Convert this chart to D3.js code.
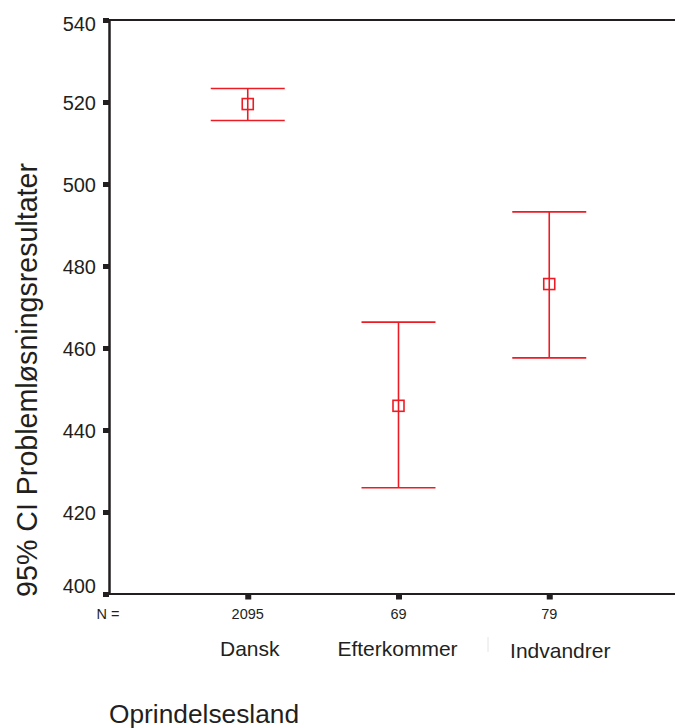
<!DOCTYPE html>
<html>
<head>
<meta charset="utf-8">
<script src="https://cdn.jsdelivr.net/npm/d3@7"></script>
<style>
  html, body { margin: 0; padding: 0; background: #fff; }
  svg { display: block; font-family: "Liberation Sans", Arial, sans-serif; }
</style>
</head>
<body>
<svg id="chart" width="675" height="728"></svg>
<script>
// Problem-solving score by country of origin: means with 95% CI
const categories = ["Dansk", "Efterkommer", "Indvandrer"];
const counts = [2095, 69, 79];
const means = [519.5, 445.9, 475.6];
const lower = [515.5, 425.9, 457.6];
const upper = [523.3, 466.3, 493.2];
const yTicks = [400, 420, 440, 460, 480, 500, 520, 540];

const svg = d3.select("#chart");
const red = "#ed1c24";
const ink = "#231f20";

const plot = { left: 109, right: 675, top: 20, bottom: 594 };

const y = d3.scaleLinear().domain([400, 540]).range([plot.bottom, plot.top]);
const x = d3.scalePoint()
  .domain(["", ...categories, " "])
  .range([97, 700]);

// frame: top edge
svg.append("line")
  .attr("x1", plot.left).attr("x2", plot.right)
  .attr("y1", plot.top).attr("y2", plot.top)
  .attr("stroke", ink).attr("stroke-width", 2);

// y axis; end labels are nudged inside the frame
const yAxis = d3.axisLeft(y).tickValues(yTicks).tickSize(0).tickPadding(13);
const gy = svg.append("g").attr("transform", `translate(${plot.left},0)`).call(yAxis);
gy.select(".domain").attr("stroke", ink).attr("stroke-width", 2.5);
gy.selectAll("text")
  .attr("font-size", 20).attr("fill", ink)
  .attr("font-family", "'Liberation Sans', Arial, sans-serif")
  .attr("dy", d => d === 540 ? "0.54em" : d === 400 ? "-0.1em" : "0.36em");
gy.selectAll(".tick").append("rect")
  .attr("x", -6).attr("y", -2.5).attr("width", 6).attr("height", 5).attr("fill", ink);

// x axis (bottom)
const xAxis = d3.axisBottom(x).tickValues(categories).tickSize(0).tickFormat("");
const gx = svg.append("g").attr("transform", `translate(0,${plot.bottom})`).call(xAxis);
gx.select(".domain").remove();
gx.append("line")
  .attr("x1", plot.left).attr("x2", plot.right)
  .attr("y1", 0).attr("y2", 0)
  .attr("stroke", ink).attr("stroke-width", 2);
gx.selectAll(".tick").append("rect")
  .attr("x", -3).attr("y", 0).attr("width", 6).attr("height", 5.5).attr("fill", ink);

// N = counts row
svg.append("text")
  .attr("x", 108).attr("y", 619)
  .attr("text-anchor", "middle").attr("font-size", 14.5).attr("fill", ink)
  .text("N =");
svg.selectAll("text.count")
  .data(categories)
  .join("text")
  .attr("class", "count")
  .attr("x", d => x(d)).attr("y", 619)
  .attr("text-anchor", "middle").attr("font-size", 14.5).attr("fill", ink)
  .text((d, i) => counts[i]);

// category labels (the last one sits a little right of its tick)
const labelShift = [2, -1, 11];
svg.selectAll("text.cat")
  .data(categories)
  .join("text")
  .attr("class", "cat")
  .attr("x", (d, i) => x(d) + labelShift[i]).attr("y", (d, i) => i === 2 ? 658 : 656)
  .attr("text-anchor", "middle").attr("font-size", 21).attr("fill", ink)
  .text(d => d);

// faint separator mark between labels
svg.append("line")
  .attr("x1", 488).attr("x2", 488).attr("y1", 637).attr("y2", 652)
  .attr("stroke", "#e4e4e4").attr("stroke-width", 1);

// axis titles
svg.append("text")
  .attr("x", 109).attr("y", 723)
  .attr("font-size", 26.3).attr("fill", ink)
  .text("Oprindelsesland");

svg.append("text")
  .attr("transform", "translate(37,380) rotate(-90)")
  .attr("text-anchor", "middle")
  .attr("font-size", 28.6).attr("fill", ink)
  .text("95% CI Problemløsningsresultater");

// error bars
const capHalf = 37;
const sq = 11;
const bars = svg.append("g").attr("stroke", red).attr("fill", "none").attr("stroke-width", 1.6);
categories.forEach((c, i) => {
  const cx = x(c);
  bars.append("line").attr("x1", cx).attr("x2", cx)
    .attr("y1", y(upper[i])).attr("y2", y(lower[i]));
  bars.append("line").attr("x1", cx - capHalf).attr("x2", cx + capHalf)
    .attr("y1", y(upper[i])).attr("y2", y(upper[i]));
  bars.append("line").attr("x1", cx - capHalf).attr("x2", cx + capHalf)
    .attr("y1", y(lower[i])).attr("y2", y(lower[i]));
  bars.append("rect")
    .attr("x", cx - sq / 2).attr("y", y(means[i]) - sq / 2)
    .attr("width", sq).attr("height", sq);
});
</script>
</body>
</html>
